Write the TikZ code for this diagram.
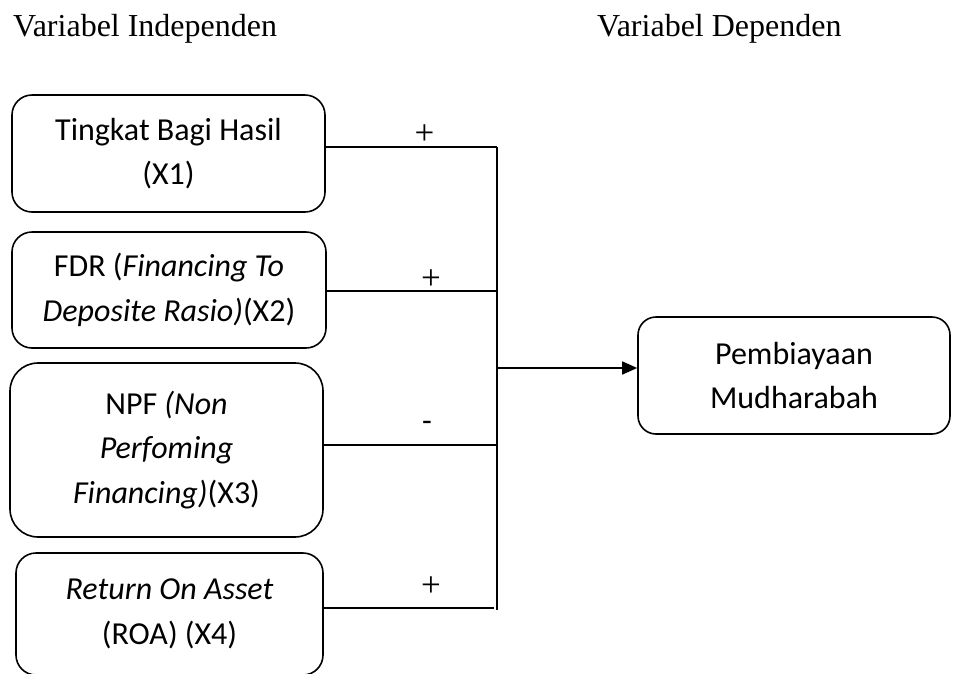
\documentclass[tikz,border=0pt]{standalone}
\usepackage{fontspec}
\setmainfont{Carlito}
\newfontfamily\hdrfont{Liberation Serif}
\usetikzlibrary{arrows.meta}
\begin{document}
\begin{tikzpicture}[x=1pt,y=-1pt,
  varbox/.style={draw,line width=1.6pt,rounded corners=20pt,align=center,
    inner sep=0pt,font=\fontsize{32}{44.5}\selectfont},
  hdr/.style={anchor=base west,inner sep=0pt,font=\hdrfont\fontsize{32}{38}\selectfont},
  sign/.style={inner sep=0pt,font=\hdrfont\fontsize{35}{40}\selectfont},
  conn/.style={line width=1.6pt}]
\useasboundingbox (0,0) rectangle (953,673);
\node[hdr] (h1) at (13,36) {Variabel Independen};
\node[hdr] (h2) at (597,36) {Variabel Dependen};

\node[varbox,minimum width=313pt,minimum height=117pt] (b1) at (168.5,153.5)
  {Tingkat Bagi Hasil\\(X1)};
\node[varbox,minimum width=314pt,minimum height=116pt] (b2) at (169,290)
  {FDR (\textit{Financing To}\\\textit{Deposite Rasio)}(X2)};
\node[varbox,rounded corners=28pt,minimum width=313pt,minimum height=174pt] (b3) at (166.5,450)
  {NPF \textit{(Non}\\\textit{Perfoming}\\\textit{Financing)}(X3)};
\node[varbox,minimum width=307pt,minimum height=122pt] (b4) at (169.5,614)
  {\textit{Return On Asset}\\(ROA) (X4)};
\node[varbox,rounded corners=18pt,minimum width=312pt,minimum height=117pt] (b5) at (794,375.5)
  {Pembiayaan\\Mudharabah};

\coordinate (j1) at (497,147);
\coordinate (j2) at (497,291);
\coordinate (j3) at (497,445);
\coordinate (j4) at (494,608);
\coordinate (jb) at (497,610);
\coordinate (j5) at (497,368);

\draw[conn] (b1.east |- j1) -- (j1);
\draw[conn] (b2.east |- j2) -- (j2);
\draw[conn] (b3.east |- j3) -- (j3);
\draw[conn] ([xshift=-2pt]b4.east |- j4) -- (j4);
\draw[conn] (j1) -- (jb);
\draw[conn,-{Triangle[length=15pt,width=13pt]}] (j5) -- (j5 -| b5.west);

\node[sign] (s1) at (424.5,135) {+};
\node[sign] (s2) at (431,280) {+};
\node[inner sep=0pt,font=\fontsize{32}{38}\selectfont] (s3) at (427,426) {-};
\node[sign] (s4) at (431,587) {+};
\end{tikzpicture}
\end{document}
